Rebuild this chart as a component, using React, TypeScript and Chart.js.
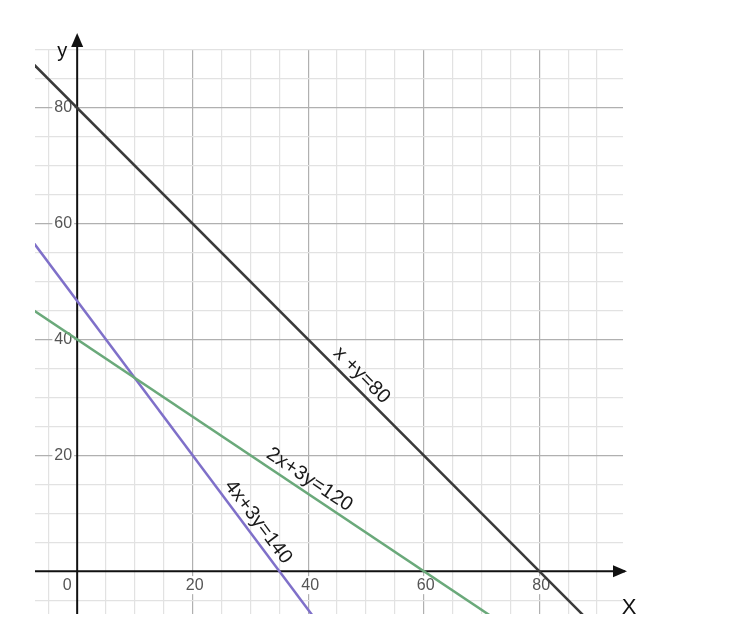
import { useEffect, useRef } from "react"
import { Chart, registerables } from "chart.js"

Chart.register(...registerables)

// lines a*x + b*y = c
const lineNames = ["x +y=80", "2x+3y=120", "4x+3y=140"]
const coefA = [1, 2, 4]
const coefB = [1, 3, 3]
const coefC = [80, 120, 140]
const lineColors = ["#3a3a3a", "#6aa97a", "#7f70c9"]
const labelAtX = [47.7, 39, 29.6]

const xTickLabels = [0, 20, 40, 60, 80]
const yTickLabels = [20, 40, 60, 80]

const X_MIN = -7.3
const X_MAX = 94.5
const Y_MIN = -7.4
const Y_MAX = 90

const lineY = (i: number, x: number) => (coefC[i] - coefA[i] * x) / coefB[i]

const FONT = "'Liberation Sans', Arial, sans-serif"

const graphPaper = {
  id: "graphPaper",
  beforeDatasetsDraw(chart: Chart) {
    const { ctx, chartArea } = chart
    const xs = chart.scales.x
    const ys = chart.scales.y
    const x0 = xs.getPixelForValue(0)
    const y0 = ys.getPixelForValue(0)
    ctx.save()
    ctx.font = "16px " + FONT
    ctx.textBaseline = "middle"
    // y tick labels
    ctx.textAlign = "right"
    yTickLabels.forEach((v) => {
      const py = ys.getPixelForValue(v)
      const w = ctx.measureText(String(v)).width
      ctx.fillStyle = "#fff"
      ctx.fillRect(x0 - 5 - w - 2, py - 9, w + 4, 18)
      ctx.fillStyle = "#555"
      ctx.fillText(String(v), x0 - 5, py)
    })
    // x tick labels
    ctx.textAlign = "center"
    xTickLabels.forEach((v) => {
      const px = v === 0 ? x0 - 10 : xs.getPixelForValue(v) + 2
      const w = ctx.measureText(String(v)).width
      ctx.fillStyle = "#fff"
      ctx.fillRect(px - w / 2 - 2, y0 + 5, w + 4, 18)
      ctx.fillStyle = "#555"
      ctx.fillText(String(v), px, y0 + 14)
    })
    // axes
    ctx.strokeStyle = "#111"
    ctx.fillStyle = "#111"
    ctx.lineWidth = 2
    ctx.beginPath()
    ctx.moveTo(chartArea.left, y0)
    ctx.lineTo(chartArea.right + 2, y0)
    ctx.moveTo(x0, chartArea.bottom)
    ctx.lineTo(x0, chartArea.top - 4)
    ctx.stroke()
    // arrow heads
    ctx.beginPath()
    ctx.moveTo(chartArea.right + 4, y0)
    ctx.lineTo(chartArea.right - 10, y0 - 6)
    ctx.lineTo(chartArea.right - 10, y0 + 6)
    ctx.closePath()
    ctx.fill()
    ctx.beginPath()
    ctx.moveTo(x0, chartArea.top - 17)
    ctx.lineTo(x0 - 6, chartArea.top - 3)
    ctx.lineTo(x0 + 6, chartArea.top - 3)
    ctx.closePath()
    ctx.fill()
    // axis names
    ctx.fillStyle = "#111"
    ctx.font = "20px " + FONT
    ctx.fillText("y", x0 - 15, chartArea.top + 1)
    ctx.font = "22px " + FONT
    ctx.fillText("X", chartArea.right + 6, chartArea.bottom - 6)
    ctx.restore()
  },
  afterDatasetsDraw(chart: Chart) {
    const { ctx } = chart
    const xs = chart.scales.x
    const ys = chart.scales.y
    ctx.save()
    ctx.font = "20px " + FONT
    ctx.fillStyle = "#1a1a1a"
    ctx.textAlign = "center"
    ctx.textBaseline = "middle"
    lineNames.forEach((name, i) => {
      const ax = labelAtX[i]
      const px = xs.getPixelForValue(ax)
      const py = ys.getPixelForValue(lineY(i, ax))
      const qx = xs.getPixelForValue(ax + 1)
      const qy = ys.getPixelForValue(lineY(i, ax + 1))
      const ang = Math.atan2(qy - py, qx - px)
      const off = 12.5
      ctx.save()
      ctx.translate(px + Math.sin(ang) * off, py - Math.cos(ang) * off)
      ctx.rotate(ang)
      ctx.fillText(name, 0, 0)
      ctx.restore()
    })
    ctx.restore()
  },
}

export default function App() {
  const chartRef = useRef<HTMLCanvasElement>(null)
  const chartInstance = useRef<Chart | null>(null)

  useEffect(() => {
    if (!chartRef.current) return
    const ctx = chartRef.current.getContext("2d")
    if (!ctx) return

    if (chartInstance.current) {
      chartInstance.current.destroy()
    }

    const gridColor = (c: any) => {
      const v = c.tick ? c.tick.value : 1
      if (v === 0) return "rgba(0,0,0,0)"
      return v % 20 === 0 ? "#b0b0b0" : "#e2e2e2"
    }

    chartInstance.current = new Chart(ctx, {
      type: "scatter",
      data: {
        datasets: lineNames.map((name, i) => ({
          label: name,
          data: [
            { x: X_MIN - 5, y: lineY(i, X_MIN - 5) },
            { x: X_MAX + 5, y: lineY(i, X_MAX + 5) },
          ],
          showLine: true,
          borderColor: lineColors[i],
          borderWidth: 2.5,
          pointRadius: 0,
        })),
      },
      options: {
        responsive: true,
        maintainAspectRatio: false,
        animation: false,
        layout: { padding: { left: 35, right: 113, top: 50, bottom: 10 } },
        plugins: {
          legend: { display: false },
          tooltip: { enabled: false },
        },
        scales: {
          x: {
            type: "linear",
            min: X_MIN,
            max: X_MAX,
            ticks: { display: false, stepSize: 5, includeBounds: false },
            grid: { color: gridColor, drawTicks: false, lineWidth: 1.2 },
            border: { display: false },
          },
          y: {
            type: "linear",
            min: Y_MIN,
            max: Y_MAX,
            ticks: { display: false, stepSize: 5, includeBounds: false },
            grid: { color: gridColor, drawTicks: false, lineWidth: 1.2 },
            border: { display: false },
          },
        },
      },
      plugins: [graphPaper],
    })

    return () => {
      if (chartInstance.current) {
        chartInstance.current.destroy()
      }
    }
  }, [])

  return (
    <div style={{ position: "fixed", left: 0, top: 0, width: 736, height: 624, background: "#fff" }}>
      <canvas ref={chartRef}></canvas>
    </div>
  )
}
